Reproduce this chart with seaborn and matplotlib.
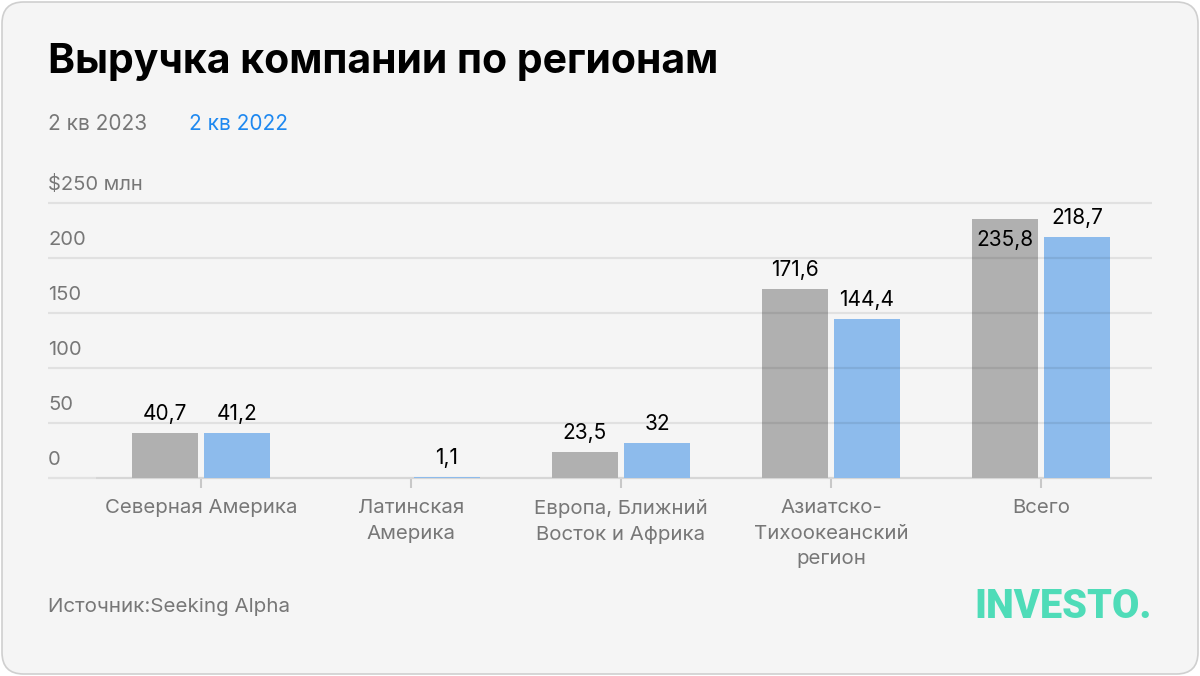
import numpy as np
import pandas as pd
import seaborn as sns
import matplotlib.pyplot as plt
from matplotlib.patches import FancyBboxPatch
from matplotlib.transforms import blended_transform_factory

regions = ["Северная Америка", "Латинская\nАмерика", "Европа, Ближний\nВосток и Африка",
           "Азиатско-\nТихоокеанский\nрегион", "Всего"]
q2_2023 = [40.7, np.nan, 23.5, 171.6, 235.8]
q2_2022 = [41.2, 1.1, 32, 144.4, 218.7]
series = ["2 кв 2023", "2 кв 2022"]
y_ticks = [0, 50, 100, 150, 200, 250]
y_labels = ["0", "50", "100", "150", "200", "$250 млн"]

GRAY = "#b0b0b0"
BLUE = "#8dbbec"
TXT = "#777777"
FONT = "Inter"

df = pd.DataFrame({
    "region": regions * 2,
    "series": [series[0]] * len(regions) + [series[1]] * len(regions),
    "value": q2_2023 + q2_2022,
})

sns.set_theme(style="white")
plt.rcParams["font.family"] = [FONT, "DejaVu Sans"]

W, H = 1200, 676
fig = plt.figure(figsize=(W / 100, H / 100), dpi=100)
fig.patch.set_facecolor("white")
card = FancyBboxPatch((2 / W, 2 / H), 1 - 4 / W, 1 - 4 / H,
                      boxstyle="round,pad=0,rounding_size=0.018",
                      transform=fig.transFigure, facecolor="#f5f5f5",
                      edgecolor="#cfcfcf", linewidth=1.2, mutation_aspect=W / H,
                      zorder=-10)
fig.add_artist(card)

# axes: x from 48 to 1152 px, y 0 at 478 px, 250 at 203 px
ax = fig.add_axes([48 / W, (H - 478) / H, 1104 / W, 275 / H])
ax.set_facecolor("none")

sns.barplot(data=df, x="region", y="value", hue="series", order=regions,
            hue_order=series, palette=[GRAY, BLUE], width=0.686, gap=0.097,
            ax=ax, legend=False, zorder=2, saturation=1, linewidth=0)

px = 1 / 210
ax.set_xlim(-0.5 - 48 * px, len(regions) - 0.5 + 6 * px)
ax.set_ylim(0, 250)
for s in ax.spines.values():
    s.set_visible(False)

# grid lines drawn over the bars, baseline under them
x0, x1 = ax.get_xlim()
for t in y_ticks[1:]:
    ax.hlines(t, x0, x1, color="black", alpha=0.08, lw=1.6, zorder=3, clip_on=False)
ax.hlines(0, x0, -0.5, color="#e2e2e2", lw=1.6, zorder=1, clip_on=False)
ax.hlines(0, -0.5, x1, color="#d6d6d6", lw=1.6, zorder=1, clip_on=False)

# y labels, left aligned above grid lines
tr = blended_transform_factory(ax.transAxes, ax.transData)
for t, lab in zip(y_ticks, y_labels):
    ax.annotate(lab, (0, t), xycoords=tr, xytext=(0, 18), textcoords="offset pixels",
                ha="left", va="center", fontsize=14.5, color=TXT)
ax.set_yticks([])

ax.set_xticks(range(len(regions)))
ax.set_xticklabels(regions, fontsize=14.7, color=TXT, linespacing=1.55, va="top")
ax.tick_params(axis="x", length=7, width=1.5, color="#c8c8c8", pad=8, bottom=True)
ax.set_xlabel("")
ax.set_ylabel("")

# value labels
for container, vals in zip(ax.containers, [q2_2023, q2_2022]):
    for bar in container:
        cx = bar.get_x() + bar.get_width() / 2
        v = vals[int(round(cx))]
        if np.isnan(v):
            continue
        off = 19
        if v == max(q2_2023):
            off = -21
        ax.annotate(f"{v:g}".replace(".", ","), (cx, v),
                    xytext=(0, off), textcoords="offset pixels", ha="center", va="center",
                    fontsize=15, color="black", zorder=4)

fig.text(48 / W, 1 - 62 / H, "Выручка компании по регионам", fontsize=29.5,
         fontweight="bold", color="black", ha="left", va="center")
fig.text(48 / W, 1 - 124 / H, series[0], fontsize=15, color=TXT, ha="left", va="center")
fig.text(189 / W, 1 - 124 / H, series[1], fontsize=15, color="#1e88f0", ha="left", va="center")
fig.text(48 / W, 1 - 607 / H, "Источник:Seeking Alpha", fontsize=14.8, color=TXT,
         ha="left", va="center")
fig.text(1152 / W, 1 - 606 / H, "INVESTO.", fontsize=28.5, fontweight="heavy",
         color="#4fdcb8", ha="right", va="center", family=["Roboto", "DejaVu Sans"])

fig.savefig("out.png", dpi=100)
